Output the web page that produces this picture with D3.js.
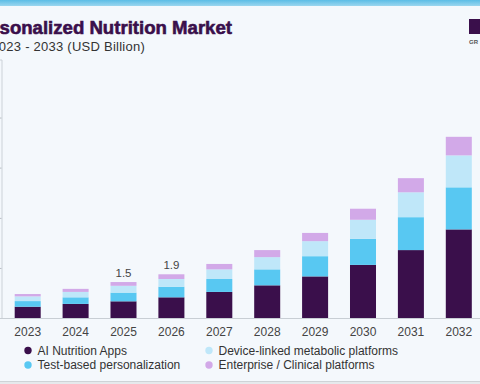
<!DOCTYPE html>
<html>
<head>
<meta charset="utf-8">
<script src="https://cdn.jsdelivr.net/npm/d3@7"></script>
<style>
	html, body { margin: 0; padding: 0; background: #f4f8fc; }
	svg { display: block; }
	text { font-family: "Liberation Sans", Arial, sans-serif; }
</style>
</head>
<body>
<svg id="chart"></svg>
<script>
// Chart values (USD Billion)
const years = ["2023", "2024", "2025", "2026", "2027", "2028", "2029", "2030", "2031", "2032"];
const aiApps = [0.48, 0.60, 0.71, 0.88, 1.11, 1.39, 1.77, 2.26, 2.89, 3.77];
const testBased = [0.24, 0.28, 0.37, 0.45, 0.55, 0.68, 0.86, 1.11, 1.40, 1.79];
const deviceLinked = [0.20, 0.23, 0.29, 0.33, 0.41, 0.52, 0.64, 0.81, 1.06, 1.36];
const enterprise = [0.10, 0.13, 0.16, 0.20, 0.23, 0.30, 0.35, 0.47, 0.60, 0.79];
const seriesNames = ["AI Nutrition Apps", "Test-based personalization", "Device-linked metabolic platforms", "Enterprise / Clinical platforms"];
const valueLabels = [{ year: "2025", text: "1.5" }, { year: "2026", text: "1.9" }];
const yTicks = [2.13, 4.26, 6.4, 8.53];

function drawChart() {
	const width = 480;
	const height = 384;
	const svg = d3.select("#chart").attr("width", width).attr("height", height);

	const colors = ["#3a0f4b", "#58c8f2", "#bfe7f9", "#d2a9e8"];
	const keys = ["ai", "test", "device", "ent"];

	const table = years.map((y, i) => ({
		year: y,
		ai: aiApps[i],
		test: testBased[i],
		device: deviceLinked[i],
		ent: enterprise[i]
	}));

	// background + top strip
	svg.append("rect").attr("width", width).attr("height", height).attr("fill", "#f4f8fc");
	const grad = svg.append("defs").append("linearGradient").attr("id", "topbar").attr("x1", 0).attr("y1", 0).attr("x2", 0).attr("y2", 1);
	grad.append("stop").attr("offset", "0%").attr("stop-color", "#5bbde6");
	grad.append("stop").attr("offset", "100%").attr("stop-color", "#9ad6ef");
	svg.append("rect").attr("width", width).attr("height", 6).attr("fill", "url(#topbar)");

	// Title (left part is cut off in the original)
	svg.append("text")
		.attr("x", 232).attr("y", 34)
		.attr("text-anchor", "end")
		.attr("font-size", "18.6px").attr("font-weight", "bold")
		.attr("fill", "#3a0f4b")
		.attr("stroke", "#3a0f4b").attr("stroke-width", 0.6)
		.text("Personalized Nutrition Market");

	svg.append("text")
		.attr("x", 145).attr("y", 50.5)
		.attr("text-anchor", "end")
		.attr("font-size", "13px")
		.attr("letter-spacing", "0.25px")
		.attr("fill", "#333")
		.text("2023 - 2033 (USD Billion)");

	// logo stub
	svg.append("rect").attr("x", 469).attr("y", 19).attr("width", 14).attr("height", 15).attr("fill", "#3a0f4b");
	svg.append("text").attr("x", 469).attr("y", 44).attr("font-size", "6px").attr("font-weight", "bold").attr("fill", "#555").text("GR");

	// scales
	const x = d3.scaleBand().domain(years).range([3.75, 482.75]).paddingInner(0.457).paddingOuter(0.2285);
	const y = d3.scaleLinear().domain([0, 11]).range([318, 59.5]);

	// y axis line with ticks (labels cut off)
	svg.append("g")
		.attr("transform", "translate(1.5,0)")
		.call(d3.axisLeft(y).tickValues(yTicks).tickSize(5).tickFormat(""))
		.call((g) => g.select(".domain").attr("stroke", "#ccd2d8"))
		.call((g) => g.selectAll(".tick line").attr("stroke", "#b8bec4"));

	// stacked bars
	const stacked = d3.stack().keys(keys)(table);
	svg.append("g")
		.selectAll("g")
		.data(stacked)
		.enter()
		.append("g")
		.attr("fill", (d, i) => colors[i])
		.selectAll("rect")
		.data((d) => d)
		.enter()
		.append("rect")
		.attr("x", (d) => x(d.data.year))
		.attr("width", x.bandwidth())
		.attr("y", (d) => y(d[1]))
		.attr("height", (d) => y(d[0]) - y(d[1]));

	// x axis baseline
	svg.append("g")
		.attr("transform", "translate(0,318)")
		.call(d3.axisBottom(x).tickSize(0).tickPadding(9))
		.call((g) => g.select(".domain").attr("d", "M0,0.5H480").attr("stroke", "#c8ced4"))
		.call((g) => g.selectAll("text").attr("font-size", "12px").attr("fill", "#444").attr("font-family", "Liberation Sans, Arial, sans-serif"));

	// value labels
	const totals = {};
	table.forEach((d) => (totals[d.year] = keys.reduce((s, k) => s + d[k], 0)));
	svg.append("g")
		.selectAll("text")
		.data(valueLabels)
		.enter()
		.append("text")
		.attr("x", (d) => x(d.year) + x.bandwidth() / 2)
		.attr("y", (d) => y(totals[d.year]) - 5)
		.attr("text-anchor", "middle")
		.attr("font-size", "11.5px")
		.attr("fill", "#444")
		.text((d) => d.text);

	// legend
	const legendPos = [[28, 350.5], [28, 365], [209, 350.5], [209, 365]];
	const legend = svg.append("g").attr("id", "legend");
	const item = legend.selectAll("g")
		.data(seriesNames)
		.enter()
		.append("g")
		.attr("transform", (d, i) => `translate(${legendPos[i][0]},${legendPos[i][1]})`);
	item.append("circle").attr("r", 3.7).attr("fill", (d, i) => colors[i]);
	item.append("text")
		.attr("x", 9.5).attr("dy", "0.35em")
		.attr("font-size", "12px")
		.attr("fill", "#333")
		.text((d) => d);

	// bottom rule
	svg.append("rect").attr("x", 0).attr("y", 381).attr("width", width).attr("height", 3).attr("fill", "#e6e9ec");
	svg.append("line").attr("x1", 0).attr("x2", width).attr("y1", 381.5).attr("y2", 381.5).attr("stroke", "#cfd3d7");
}

drawChart();
</script>
</body>
</html>
